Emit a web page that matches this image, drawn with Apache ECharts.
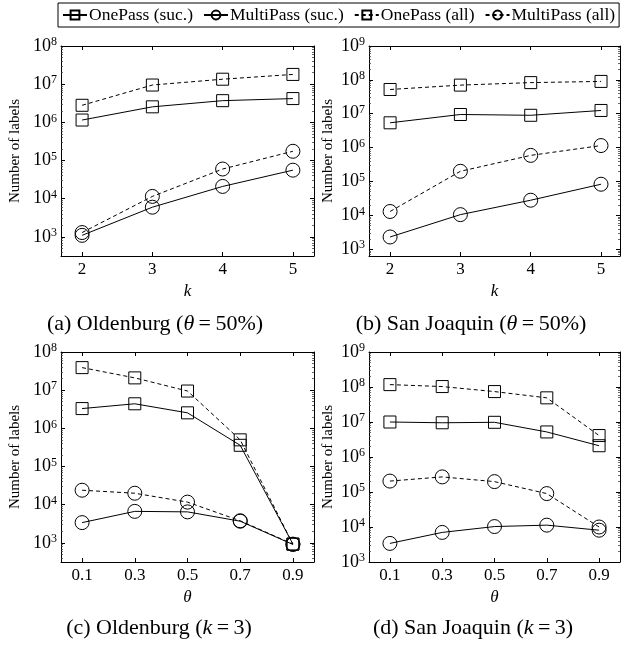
<!DOCTYPE html>
<html><head><meta charset="utf-8">
<script src="https://cdn.jsdelivr.net/npm/echarts@6/dist/echarts.min.js"></script>
<style>html,body{margin:0;padding:0;background:#fff}#c{width:621px;height:648px}</style>
</head><body><div id="c"></div>
<script>
// ---- data ----
const kValues = [2, 3, 4, 5];
const thetaValues = [0.1, 0.3, 0.5, 0.7, 0.9];
const seriesNames = ['OnePass (suc.)', 'MultiPass (suc.)', 'OnePass (all)', 'MultiPass (all)'];

// (a) Oldenburg, theta = 50%, x = k
const aOnePassSuc   = [1.15e6, 2.55e6, 3.7e6, 4.2e6];
const aMultiPassSuc = [1.1e3, 6.0e3, 2.1e4, 5.6e4];
const aOnePassAll   = [2.8e6, 9.5e6, 1.35e7, 1.8e7];
const aMultiPassAll = [1.3e3, 1.15e4, 6.0e4, 1.75e5];

// (b) San Joaquin, theta = 50%, x = k
const bOnePassSuc   = [5.4e6, 9.5e6, 9.0e6, 1.25e7];
const bMultiPassSuc = [2.3e3, 1.05e4, 2.8e4, 8.3e4];
const bOnePassAll   = [5.2e7, 7.0e7, 8.3e7, 9.0e7];
const bMultiPassAll = [1.3e4, 2.0e5, 5.9e5, 1.15e6];

// (c) Oldenburg, k = 3, x = theta
const cOnePassSuc   = [3.3e6, 4.4e6, 2.55e6, 3.6e5, 9.3e2];
const cMultiPassSuc = [3.4e3, 6.7e3, 6.5e3, 3.7e3, 9.1e2];
const cOnePassAll   = [3.9e7, 2.1e7, 9.5e6, 5.0e5, 9.3e2];
const cMultiPassAll = [2.4e4, 2.0e4, 1.17e4, 3.8e3, 9.3e2];

// (d) San Joaquin, k = 3, x = theta
const dOnePassSuc   = [1.0e7, 9.5e6, 9.8e6, 5.2e6, 2.1e6];
const dMultiPassSuc = [3.4e3, 7.0e3, 1.03e4, 1.13e4, 8.1e3];
const dOnePassAll   = [1.17e8, 1.03e8, 7.4e7, 4.9e7, 4.1e6];
const dMultiPassAll = [2.05e5, 2.7e5, 1.98e5, 9.0e4, 1.0e4];

// tick labels
const kTickLabels = ['2', '3', '4', '5'];
const thetaTickLabels = ['0.1', '0.3', '0.5', '0.7', '0.9'];
const captions = [
  '(a) Oldenburg ({i|θ}\u2009=\u200950%)',
  '(b) San Joaquin ({i|θ}\u2009=\u200950%)',
  '(c) Oldenburg ({i|k}\u2009=\u20093)',
  '(d) San Joaquin ({i|k}\u2009=\u20093)'
];

// ---- layout ----
const FONT = 'Liberation Serif';
const panels = [
  {grid:{left:61, top:46, width:253, height:210}, x:kValues, xt:kTickLabels, xmin:1.7, xmax:5.3, ymin:Math.pow(10,2.5), ymax:1e8, xname:'{i|k}', ygap:38,
   ys:[aOnePassSuc,aMultiPassSuc,aOnePassAll,aMultiPassAll], cap:[155,324]},
  {grid:{left:369, top:46, width:251, height:210}, x:kValues, xt:kTickLabels, xmin:1.7, xmax:5.27, ymin:Math.pow(10,2.8), ymax:1e9, xname:'{i|k}', ygap:33,
   ys:[bOnePassSuc,bMultiPassSuc,bOnePassAll,bMultiPassAll], cap:[471,324]},
  {grid:{left:61, top:352, width:253, height:210}, x:thetaValues, xt:thetaTickLabels, xmin:0.02, xmax:0.98, ymin:Math.pow(10,2.5), ymax:1e8, xname:'{i|θ}', ygap:38,
   ys:[cOnePassSuc,cMultiPassSuc,cOnePassAll,cMultiPassAll], cap:[159,628]},
  {grid:{left:369, top:352, width:251, height:210}, x:thetaValues, xt:thetaTickLabels, xmin:0.02, xmax:0.98, ymin:1e3, ymax:1e9, xname:'{i|θ}', ygap:33,
   ys:[dOnePassSuc,dMultiPassSuc,dOnePassAll,dMultiPassAll], cap:[473,628]}
];

function majors(lo, hi){ const r=[]; for(let e=Math.ceil(Math.log10(lo)-1e-9); e<=Math.floor(Math.log10(hi)+1e-9); e++) r.push(Math.pow(10,e)); return r; }
function minors(lo, hi){ const r=[]; for(let e=Math.floor(Math.log10(lo)); e<=Math.ceil(Math.log10(hi)); e++) for(let m=2;m<=9;m++){ const v=m*Math.pow(10,e); if(v>=lo && v<=hi) r.push(v);} return r; }

const grids=[], xAxes=[], yAxes=[], series=[], graphics=[];
const styles = [
  {symbol:'rect', size:12, type:'solid'},
  {symbol:'circle', size:14, type:'solid'},
  {symbol:'rect', size:12, type:[4,3]},
  {symbol:'circle', size:14, type:[4,3]}
];

panels.forEach((p, pi) => {
  grids.push(p.grid);
  const xi = xAxes.length;
  xAxes.push({
    type:'value', gridIndex:pi, position:'bottom', min:p.xmin, max:p.xmax,
    axisLine:{show:true, onZero:false, lineStyle:{color:'#000', width:1}},
    axisTick:{show:true, inside:true, length:4, lineStyle:{color:'#000'}, customValues:p.x},
    axisLabel:{show:true, customValues:p.x, formatter:(v)=>p.xt[p.x.indexOf(v)] ?? String(v), color:'#000', fontFamily:FONT, fontSize:17, margin:5},
    splitLine:{show:false},
    name:p.xname, nameLocation:'middle', nameGap:27,
    nameTextStyle:{color:'#000', fontFamily:FONT, fontSize:17, rich:{i:{fontStyle:'italic', fontFamily:FONT, fontSize:17}}}
  });
  xAxes.push({
    type:'value', gridIndex:pi, position:'top', min:p.xmin, max:p.xmax,
    axisLine:{show:true, onZero:false, lineStyle:{color:'#000', width:1}},
    axisTick:{show:true, inside:true, length:4, lineStyle:{color:'#000'}, customValues:p.x},
    axisLabel:{show:false}, splitLine:{show:false}
  });
  const yi = yAxes.length;
  const maj = majors(p.ymin, p.ymax), mnr = minors(p.ymin, p.ymax);
  yAxes.push({
    type:'log', logBase:10, gridIndex:pi, position:'left', min:p.ymin, max:p.ymax,
    axisLine:{show:true, onZero:false, lineStyle:{color:'#000', width:1}},
    axisTick:{show:true, inside:true, length:4, lineStyle:{color:'#000'}, customValues:maj},
    axisLabel:{show:true, customValues:maj, margin:4,
      formatter:(v)=>'{b|10}{e|'+Math.round(Math.log10(v))+'}',
      rich:{b:{fontFamily:FONT, fontSize:18, color:'#000', lineHeight:20}, e:{fontFamily:FONT, fontSize:12, color:'#000', verticalAlign:'top', lineHeight:12}}},
    splitLine:{show:false},
    name:'Number of labels', nameLocation:'middle', nameGap:p.ygap, nameRotate:90,
    nameTextStyle:{color:'#000', fontFamily:FONT, fontSize:15}
  });
  yAxes.push({
    type:'log', logBase:10, gridIndex:pi, position:'left', min:p.ymin, max:p.ymax,
    axisLine:{show:false}, axisTick:{show:true, inside:true, length:2, lineStyle:{color:'#444', width:0.8}, customValues:mnr},
    axisLabel:{show:false}, splitLine:{show:false}
  });
  yAxes.push({
    type:'log', logBase:10, gridIndex:pi, position:'right', min:p.ymin, max:p.ymax,
    axisLine:{show:true, onZero:false, lineStyle:{color:'#000', width:1}},
    axisTick:{show:true, inside:true, length:4, lineStyle:{color:'#000'}, customValues:maj},
    axisLabel:{show:false}, splitLine:{show:false}
  });
  yAxes.push({
    type:'log', logBase:10, gridIndex:pi, position:'right', min:p.ymin, max:p.ymax,
    axisLine:{show:false}, axisTick:{show:true, inside:true, length:2, lineStyle:{color:'#444', width:0.8}, customValues:mnr},
    axisLabel:{show:false}, splitLine:{show:false}
  });
  p.ys.forEach((vals, si) => {
    const st = styles[si];
    series.push({
      type:'line', name:seriesNames[si], xAxisIndex:xi, yAxisIndex:yi,
      data: p.x.map((xv, j) => [xv, vals[j]]),
      symbol: st.symbol, symbolSize: st.size, showSymbol:true,
      lineStyle:{color:'#000', width:1, type:st.type},
      itemStyle:{color:'rgba(0,0,0,0)', borderColor:'#000', borderWidth:1},
      emphasis:{disabled:true}, z: 3
    });
  });
  graphics.push({
    type:'text', x:p.cap[0], y:p.cap[1],
    style:{text:captions[pi], fill:'#000', font:'22px "Liberation Serif"', align:'center', verticalAlign:'middle',
      rich:{i:{fontStyle:'italic', fontFamily:FONT, fontSize:22, fill:'#000'}}}
  });
});

const chart = echarts.init(document.getElementById('c'), null, {renderer:'canvas'});
chart.setOption({
  animation:false,
  backgroundColor:'#fff',
  legend:{
    data: seriesNames.map(n=>({name:n})), left:58, top:3, width:610, orient:'horizontal',
    borderColor:'#000', borderWidth:1, padding:[3,4], itemGap:10, itemWidth:24, itemHeight:11,
    textStyle:{fontFamily:FONT, fontSize:17.5, color:'#000', padding:[0,0,0,-3]},
    selectedMode:false
  },
  grid: grids, xAxis: xAxes, yAxis: yAxes, series: series, graphic: graphics
});
</script>
</body></html>
